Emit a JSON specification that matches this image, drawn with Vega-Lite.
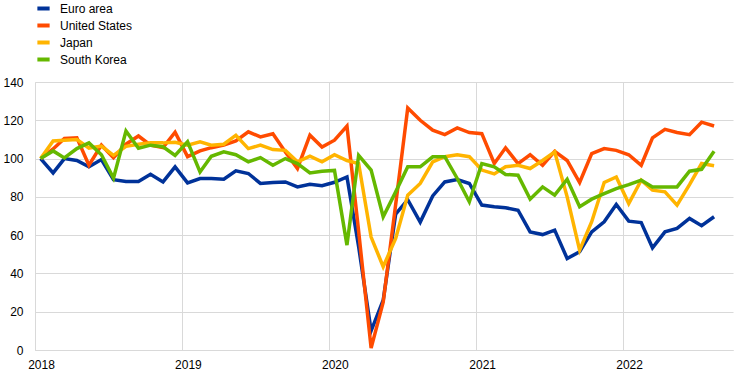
{
  "$schema": "https://vega.github.io/schema/vega-lite/v6.json",
  "width": 698,
  "height": 268,
  "autosize": {"type": "none"},
  "padding": {"left": 35, "top": 82, "right": 9, "bottom": 26},
  "background": "white",
  "config": {"view": {"stroke": null}, "font": "Liberation Sans"},
  "data": {"values": [
    {"date":"2018-01-15","series":"Euro area","value":100},
    {"date":"2018-02-15","series":"Euro area","value":92.5},
    {"date":"2018-03-15","series":"Euro area","value":100},
    {"date":"2018-04-15","series":"Euro area","value":99},
    {"date":"2018-05-15","series":"Euro area","value":95.7},
    {"date":"2018-06-15","series":"Euro area","value":99.5},
    {"date":"2018-07-15","series":"Euro area","value":89},
    {"date":"2018-08-15","series":"Euro area","value":88},
    {"date":"2018-09-15","series":"Euro area","value":88},
    {"date":"2018-10-15","series":"Euro area","value":91.8},
    {"date":"2018-11-15","series":"Euro area","value":87.8},
    {"date":"2018-12-15","series":"Euro area","value":95.7},
    {"date":"2019-01-15","series":"Euro area","value":87.3},
    {"date":"2019-02-15","series":"Euro area","value":89.6},
    {"date":"2019-03-15","series":"Euro area","value":89.6},
    {"date":"2019-04-15","series":"Euro area","value":89.2},
    {"date":"2019-05-15","series":"Euro area","value":93.6},
    {"date":"2019-06-15","series":"Euro area","value":92.2},
    {"date":"2019-07-15","series":"Euro area","value":87},
    {"date":"2019-08-15","series":"Euro area","value":87.5},
    {"date":"2019-09-15","series":"Euro area","value":87.8},
    {"date":"2019-10-15","series":"Euro area","value":85.2},
    {"date":"2019-11-15","series":"Euro area","value":86.6},
    {"date":"2019-12-15","series":"Euro area","value":85.8},
    {"date":"2020-01-15","series":"Euro area","value":87.6},
    {"date":"2020-02-15","series":"Euro area","value":90.4},
    {"date":"2020-03-15","series":"Euro area","value":54},
    {"date":"2020-04-15","series":"Euro area","value":10},
    {"date":"2020-05-15","series":"Euro area","value":26},
    {"date":"2020-06-15","series":"Euro area","value":71},
    {"date":"2020-07-15","series":"Euro area","value":78.5},
    {"date":"2020-08-15","series":"Euro area","value":66.8},
    {"date":"2020-09-15","series":"Euro area","value":80.5},
    {"date":"2020-10-15","series":"Euro area","value":87.8},
    {"date":"2020-11-15","series":"Euro area","value":89},
    {"date":"2020-12-15","series":"Euro area","value":87},
    {"date":"2021-01-15","series":"Euro area","value":75.7},
    {"date":"2021-02-15","series":"Euro area","value":74.8},
    {"date":"2021-03-15","series":"Euro area","value":74.3},
    {"date":"2021-04-15","series":"Euro area","value":73},
    {"date":"2021-05-15","series":"Euro area","value":61.7},
    {"date":"2021-06-15","series":"Euro area","value":60.3},
    {"date":"2021-07-15","series":"Euro area","value":62.6},
    {"date":"2021-08-15","series":"Euro area","value":47.8},
    {"date":"2021-09-15","series":"Euro area","value":51.3},
    {"date":"2021-10-15","series":"Euro area","value":61.7},
    {"date":"2021-11-15","series":"Euro area","value":67},
    {"date":"2021-12-15","series":"Euro area","value":76},
    {"date":"2022-01-15","series":"Euro area","value":67.3},
    {"date":"2022-02-15","series":"Euro area","value":66.6},
    {"date":"2022-03-15","series":"Euro area","value":53.4},
    {"date":"2022-04-15","series":"Euro area","value":61.7},
    {"date":"2022-05-15","series":"Euro area","value":63.5},
    {"date":"2022-06-15","series":"Euro area","value":68.7},
    {"date":"2022-07-15","series":"Euro area","value":64.9},
    {"date":"2022-08-15","series":"Euro area","value":69.6},

    {"date":"2018-01-15","series":"United States","value":100},
    {"date":"2018-02-15","series":"United States","value":105},
    {"date":"2018-03-15","series":"United States","value":110.5},
    {"date":"2018-04-15","series":"United States","value":110.8},
    {"date":"2018-05-15","series":"United States","value":96.5},
    {"date":"2018-06-15","series":"United States","value":107},
    {"date":"2018-07-15","series":"United States","value":100.5},
    {"date":"2018-08-15","series":"United States","value":107.5},
    {"date":"2018-09-15","series":"United States","value":111.8},
    {"date":"2018-10-15","series":"United States","value":107},
    {"date":"2018-11-15","series":"United States","value":105.8},
    {"date":"2018-12-15","series":"United States","value":113.8},
    {"date":"2019-01-15","series":"United States","value":101},
    {"date":"2019-02-15","series":"United States","value":104},
    {"date":"2019-03-15","series":"United States","value":105.7},
    {"date":"2019-04-15","series":"United States","value":107},
    {"date":"2019-05-15","series":"United States","value":109.2},
    {"date":"2019-06-15","series":"United States","value":114},
    {"date":"2019-07-15","series":"United States","value":111.3},
    {"date":"2019-08-15","series":"United States","value":113},
    {"date":"2019-09-15","series":"United States","value":103.5},
    {"date":"2019-10-15","series":"United States","value":94.8},
    {"date":"2019-11-15","series":"United States","value":112.2},
    {"date":"2019-12-15","series":"United States","value":106},
    {"date":"2020-01-15","series":"United States","value":109.6},
    {"date":"2020-02-15","series":"United States","value":117},
    {"date":"2020-03-15","series":"United States","value":62},
    {"date":"2020-04-15","series":"United States","value":1},
    {"date":"2020-05-15","series":"United States","value":25},
    {"date":"2020-06-15","series":"United States","value":76},
    {"date":"2020-07-15","series":"United States","value":126.4},
    {"date":"2020-08-15","series":"United States","value":120},
    {"date":"2020-09-15","series":"United States","value":114.8},
    {"date":"2020-10-15","series":"United States","value":112.5},
    {"date":"2020-11-15","series":"United States","value":116},
    {"date":"2020-12-15","series":"United States","value":113.6},
    {"date":"2021-01-15","series":"United States","value":113},
    {"date":"2021-02-15","series":"United States","value":97.4},
    {"date":"2021-03-15","series":"United States","value":105.6},
    {"date":"2021-04-15","series":"United States","value":97.4},
    {"date":"2021-05-15","series":"United States","value":102},
    {"date":"2021-06-15","series":"United States","value":96.5},
    {"date":"2021-07-15","series":"United States","value":103.8},
    {"date":"2021-08-15","series":"United States","value":99},
    {"date":"2021-09-15","series":"United States","value":87.5},
    {"date":"2021-10-15","series":"United States","value":102.6},
    {"date":"2021-11-15","series":"United States","value":105.2},
    {"date":"2021-12-15","series":"United States","value":104.3},
    {"date":"2022-01-15","series":"United States","value":102},
    {"date":"2022-02-15","series":"United States","value":96.5},
    {"date":"2022-03-15","series":"United States","value":110.8},
    {"date":"2022-04-15","series":"United States","value":115.3},
    {"date":"2022-05-15","series":"United States","value":113.6},
    {"date":"2022-06-15","series":"United States","value":112.5},
    {"date":"2022-07-15","series":"United States","value":119},
    {"date":"2022-08-15","series":"United States","value":117},

    {"date":"2018-01-15","series":"Japan","value":100},
    {"date":"2018-02-15","series":"Japan","value":109.2},
    {"date":"2018-03-15","series":"Japan","value":109.6},
    {"date":"2018-04-15","series":"Japan","value":110},
    {"date":"2018-05-15","series":"Japan","value":105.5},
    {"date":"2018-06-15","series":"Japan","value":106.5},
    {"date":"2018-07-15","series":"Japan","value":101.7},
    {"date":"2018-08-15","series":"Japan","value":106.4},
    {"date":"2018-09-15","series":"Japan","value":107.5},
    {"date":"2018-10-15","series":"Japan","value":108.2},
    {"date":"2018-11-15","series":"Japan","value":108.2},
    {"date":"2018-12-15","series":"Japan","value":108.5},
    {"date":"2019-01-15","series":"Japan","value":107},
    {"date":"2019-02-15","series":"Japan","value":108.7},
    {"date":"2019-03-15","series":"Japan","value":107},
    {"date":"2019-04-15","series":"Japan","value":107.5},
    {"date":"2019-05-15","series":"Japan","value":112.2},
    {"date":"2019-06-15","series":"Japan","value":105.2},
    {"date":"2019-07-15","series":"Japan","value":107},
    {"date":"2019-08-15","series":"Japan","value":104.7},
    {"date":"2019-09-15","series":"Japan","value":104.3},
    {"date":"2019-10-15","series":"Japan","value":98.3},
    {"date":"2019-11-15","series":"Japan","value":101.2},
    {"date":"2019-12-15","series":"Japan","value":98.3},
    {"date":"2020-01-15","series":"Japan","value":102},
    {"date":"2020-02-15","series":"Japan","value":99},
    {"date":"2020-03-15","series":"Japan","value":97.4},
    {"date":"2020-04-15","series":"Japan","value":59},
    {"date":"2020-05-15","series":"Japan","value":43.5},
    {"date":"2020-06-15","series":"Japan","value":58.3},
    {"date":"2020-07-15","series":"Japan","value":80.9},
    {"date":"2020-08-15","series":"Japan","value":87},
    {"date":"2020-09-15","series":"Japan","value":98.3},
    {"date":"2020-10-15","series":"Japan","value":101},
    {"date":"2020-11-15","series":"Japan","value":102},
    {"date":"2020-12-15","series":"Japan","value":101},
    {"date":"2021-01-15","series":"Japan","value":94},
    {"date":"2021-02-15","series":"Japan","value":92},
    {"date":"2021-03-15","series":"Japan","value":95.7},
    {"date":"2021-04-15","series":"Japan","value":96.5},
    {"date":"2021-05-15","series":"Japan","value":94.8},
    {"date":"2021-06-15","series":"Japan","value":99},
    {"date":"2021-07-15","series":"Japan","value":103.5},
    {"date":"2021-08-15","series":"Japan","value":80},
    {"date":"2021-09-15","series":"Japan","value":52.2},
    {"date":"2021-10-15","series":"Japan","value":67},
    {"date":"2021-11-15","series":"Japan","value":87.5},
    {"date":"2021-12-15","series":"Japan","value":90.4},
    {"date":"2022-01-15","series":"Japan","value":76.5},
    {"date":"2022-02-15","series":"Japan","value":88.7},
    {"date":"2022-03-15","series":"Japan","value":83.5},
    {"date":"2022-04-15","series":"Japan","value":82.6},
    {"date":"2022-05-15","series":"Japan","value":75.7},
    {"date":"2022-06-15","series":"Japan","value":86.4},
    {"date":"2022-07-15","series":"Japan","value":97.4},
    {"date":"2022-08-15","series":"Japan","value":96.2},

    {"date":"2018-01-15","series":"South Korea","value":100},
    {"date":"2018-02-15","series":"South Korea","value":104},
    {"date":"2018-03-15","series":"South Korea","value":100.3},
    {"date":"2018-04-15","series":"South Korea","value":105.2},
    {"date":"2018-05-15","series":"South Korea","value":108.2},
    {"date":"2018-06-15","series":"South Korea","value":102},
    {"date":"2018-07-15","series":"South Korea","value":89.8},
    {"date":"2018-08-15","series":"South Korea","value":114.4},
    {"date":"2018-09-15","series":"South Korea","value":105.4},
    {"date":"2018-10-15","series":"South Korea","value":107},
    {"date":"2018-11-15","series":"South Korea","value":106.2},
    {"date":"2018-12-15","series":"South Korea","value":101.7},
    {"date":"2019-01-15","series":"South Korea","value":108.8},
    {"date":"2019-02-15","series":"South Korea","value":93},
    {"date":"2019-03-15","series":"South Korea","value":101.2},
    {"date":"2019-04-15","series":"South Korea","value":103.5},
    {"date":"2019-05-15","series":"South Korea","value":102},
    {"date":"2019-06-15","series":"South Korea","value":98.3},
    {"date":"2019-07-15","series":"South Korea","value":100.5},
    {"date":"2019-08-15","series":"South Korea","value":96.5},
    {"date":"2019-09-15","series":"South Korea","value":100},
    {"date":"2019-10-15","series":"South Korea","value":97.4},
    {"date":"2019-11-15","series":"South Korea","value":92.5},
    {"date":"2019-12-15","series":"South Korea","value":93.4},
    {"date":"2020-01-15","series":"South Korea","value":93.8},
    {"date":"2020-02-15","series":"South Korea","value":54.8},
    {"date":"2020-03-15","series":"South Korea","value":101.7},
    {"date":"2020-04-15","series":"South Korea","value":94},
    {"date":"2020-05-15","series":"South Korea","value":69.6},
    {"date":"2020-06-15","series":"South Korea","value":82.6},
    {"date":"2020-07-15","series":"South Korea","value":95.7},
    {"date":"2020-08-15","series":"South Korea","value":95.7},
    {"date":"2020-09-15","series":"South Korea","value":100.9},
    {"date":"2020-10-15","series":"South Korea","value":101},
    {"date":"2020-11-15","series":"South Korea","value":89.6},
    {"date":"2020-12-15","series":"South Korea","value":77.4},
    {"date":"2021-01-15","series":"South Korea","value":97.4},
    {"date":"2021-02-15","series":"South Korea","value":95.7},
    {"date":"2021-03-15","series":"South Korea","value":91.7},
    {"date":"2021-04-15","series":"South Korea","value":91.3},
    {"date":"2021-05-15","series":"South Korea","value":78.8},
    {"date":"2021-06-15","series":"South Korea","value":85.2},
    {"date":"2021-07-15","series":"South Korea","value":80.9},
    {"date":"2021-08-15","series":"South Korea","value":89.2},
    {"date":"2021-09-15","series":"South Korea","value":74.8},
    {"date":"2021-10-15","series":"South Korea","value":78.8},
    {"date":"2021-11-15","series":"South Korea","value":81.7},
    {"date":"2021-12-15","series":"South Korea","value":84.3},
    {"date":"2022-01-15","series":"South Korea","value":86.4},
    {"date":"2022-02-15","series":"South Korea","value":88.7},
    {"date":"2022-03-15","series":"South Korea","value":85.2},
    {"date":"2022-04-15","series":"South Korea","value":85.2},
    {"date":"2022-05-15","series":"South Korea","value":85.2},
    {"date":"2022-06-15","series":"South Korea","value":93.4},
    {"date":"2022-07-15","series":"South Korea","value":94.4},
    {"date":"2022-08-15","series":"South Korea","value":103.8}
  ]},
  "mark": {"type": "line", "strokeWidth": 3.5},
  "encoding": {
    "x": {
      "field": "date",
      "type": "temporal",
      "scale": {"domain": [{"year": 2018, "month": 1, "date": 1}, {"year": 2022, "month": 10, "date": 1}]},
      "axis": {
        "title": null,
        "values": [{"year": 2018, "month": 1, "date": 1}, {"year": 2019, "month": 1, "date": 1}, {"year": 2020, "month": 1, "date": 1}, {"year": 2021, "month": 1, "date": 1}, {"year": 2022, "month": 1, "date": 1}],
        "format": "%Y",
        "grid": true,
        "gridColor": "#d9d9d9",
        "gridWidth": 1,
        "domainColor": "#d9d9d9",
        "ticks": false,
        "labelFlush": false,
        "labelAlign": "center",
        "labelOffset": 6,
        "labelPadding": 9,
        "labelFontSize": 12,
        "labelColor": "#000000",
        "labelFont": "Liberation Sans"
      }
    },
    "y": {
      "field": "value",
      "type": "quantitative",
      "scale": {"domain": [0, 140], "nice": false},
      "axis": {
        "title": null,
        "values": [0, 20, 40, 60, 80, 100, 120, 140],
        "grid": true,
        "gridColor": "#d9d9d9",
        "gridWidth": 1,
        "domainColor": "#d9d9d9",
        "ticks": false,
        "labelPadding": 12,
        "labelFontSize": 12,
        "labelColor": "#000000",
        "labelFont": "Liberation Sans"
      }
    },
    "color": {
      "field": "series",
      "type": "nominal",
      "sort": ["Euro area", "United States", "Japan", "South Korea"],
      "scale": {"domain": ["Euro area", "United States", "Japan", "South Korea"], "range": ["#003299", "#ff4b00", "#ffb400", "#65b800"]},
      "legend": {
        "title": null,
        "orient": "none",
        "legendX": 0,
        "legendY": -82,
        "direction": "vertical",
        "padding": 0,
        "symbolType": "stroke",
        "symbolStrokeWidth": 4,
        "symbolSize": 150,
        "labelFontSize": 12,
        "labelColor": "#000000",
        "labelFont": "Liberation Sans",
        "labelOffset": 8,
        "rowPadding": 0
      }
    }
  }
}
